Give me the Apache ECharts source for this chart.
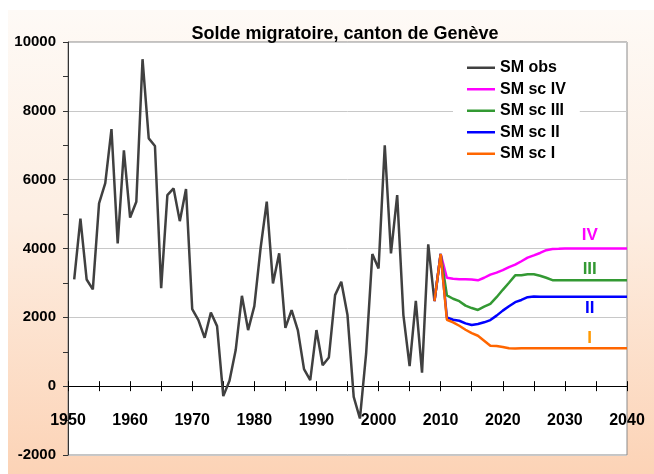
<!DOCTYPE html>
<html>
<head>
<meta charset="utf-8">
<script src="https://cdn.jsdelivr.net/npm/echarts@6/dist/echarts.min.js"></script>
<style>
html,body{margin:0;padding:0;background:#fff;}
#bg{position:absolute;left:8px;top:10px;width:646px;height:464px;background:linear-gradient(to bottom,#fefaf6 0%,#fdeee2 45%,#fcd3b6 100%);}
#chart{position:absolute;left:0;top:0;width:654px;height:474px;}
</style>
</head>
<body>
<div id="bg"></div>
<div id="chart"></div>
<script>
// Observed migratory balance (SM obs)
const obsYears = [1951,1952,1953,1954,1955,1956,1957,1958,1959,1960,1961,1962,1963,1964,1965,1966,1967,1968,1969,1970,
  1971,1972,1973,1974,1975,1976,1977,1978,1979,1980,1981,1982,1983,1984,1985,1986,1987,1988,1989,1990,
  1991,1992,1993,1994,1995,1996,1997,1998,1999,2000,2001,2002,2003,2004,2005,2006,2007,2008,2009];
const obsValues = [3100,4870,3100,2810,5310,5900,7470,4150,6850,4900,5360,9500,7200,6980,2850,5550,5745,4795,5730,2240,
  1920,1405,2140,1745,-290,155,1050,2625,1630,2325,4000,5360,2985,3860,1695,2210,1630,495,175,1630,
  610,835,2645,3035,2065,-310,-940,950,3840,3420,7000,3860,5550,2065,580,2480,390,4120,2470];

// Scenario years and values
const scYears = [2009,2010,2011,2012,2013,2014,2015,2016,2017,2018,2019,2020,2021,2022,2023,2024,2025,2026,2027,2028,
  2029,2030,2031,2032,2033,2034,2035,2036,2037,2038,2039,2040];
const scIV  = [2470,3840,3150,3120,3110,3110,3100,3075,3150,3240,3300,3370,3460,3530,3630,3735,3800,3870,3950,3985,
  3990,4000,4000,4000,4000,4000,4000,4000,4000,4000,4000,4000];
const scIII = [2470,3840,2640,2540,2470,2340,2270,2215,2310,2390,2585,2800,3005,3220,3220,3250,3250,3210,3150,3080,
  3080,3080,3080,3080,3080,3080,3080,3080,3080,3080,3080,3080];
const scII  = [2470,3840,2000,1930,1900,1825,1775,1805,1855,1920,2050,2195,2320,2440,2505,2585,2605,2600,2600,2600,
  2600,2600,2600,2600,2600,2600,2600,2600,2600,2600,2600,2600];
const scI   = [2470,3840,1930,1855,1755,1640,1540,1465,1320,1175,1170,1140,1100,1095,1100,1100,1100,1100,1100,1100,
  1100,1100,1100,1100,1100,1100,1100,1100,1100,1100,1100,1100];

const seriesNames = ['SM obs','SM sc IV','SM sc III','SM sc II','SM sc I'];
const tagLabels = ['IV','III','II','I'];
const tagYears = [2034,2034,2034,2034];
const tagValues = [4390,3400,2270,1395];

const pairs = (xs, ys) => xs.map((x, i) => [x, ys[i]]);
const FONT = '"Liberation Sans", Arial, sans-serif';
const GRID_H = 474 - 42 - 19;
const ZERO_OFFSET = -GRID_H * 2000 / 12000;

function tag(i, color) {
  return {
    symbol: 'circle', symbolSize: 0, silent: true,
    label: {show: true, position: 'inside', formatter: tagLabels[i], color: color,
      fontFamily: FONT, fontWeight: 'bold', fontSize: 17},
    data: [{coord: [tagYears[i], tagValues[i]]}]
  };
}

const chart = echarts.init(document.getElementById('chart'), null, {renderer: 'canvas'});
chart.setOption({
  backgroundColor: 'transparent',
  animation: false,
  title: {
    text: 'Solde migratoire, canton de Genève',
    left: 340, top: 20, textAlign: 'center',
    textStyle: {fontFamily: FONT, fontWeight: 'bold', fontSize: 18, color: '#000'}
  },
  legend: {
    orient: 'vertical', left: 453, top: 56,
    backgroundColor: '#fff', padding: [3, 14, 4, 14],
    icon: 'rect', itemWidth: 28, itemHeight: 2.5, itemGap: 4,
    data: seriesNames,
    textStyle: {fontFamily: FONT, fontWeight: 'bold', fontSize: 16, color: '#000', lineHeight: 17.5}
  },
  grid: {left: 68, right: 27, top: 42, bottom: 19, show: true,
    backgroundColor: '#fff', borderColor: '#8a8a8a', borderWidth: 1},
  xAxis: [{
    type: 'value', min: 1950, max: 2040, interval: 10, position: 'bottom', offset: ZERO_OFFSET,
    axisLine: {show: true, onZero: false, lineStyle: {color: '#000', width: 1}},
    axisTick: {show: true, length: 5, lineStyle: {color: '#000'}},
    minorTick: {show: true, splitNumber: 2, length: 5, lineStyle: {color: '#000'}},
    axisLabel: {margin: 26, color: '#000', fontFamily: FONT, fontWeight: 'bold', fontSize: 16,
      formatter: v => String(v)},
    splitLine: {show: false}
  }, {
    type: 'value', min: 1950, max: 2040, interval: 10, position: 'bottom',
    axisLine: {show: false, onZero: true, onZeroAxisIndex: 0},
    axisTick: {show: true, inside: true, length: 5, lineStyle: {color: '#000'}},
    minorTick: {show: true, splitNumber: 2, length: 5, lineStyle: {color: '#000'}},
    axisLabel: {show: false},
    splitLine: {show: false}
  }],
  yAxis: {
    type: 'value', min: -2000, max: 10000, interval: 2000,
    axisLine: {show: true, onZero: false, lineStyle: {color: '#333', width: 1}},
    axisTick: {show: true, length: 5, lineStyle: {color: '#333'}},
    minorTick: {show: true, splitNumber: 2, length: 5, lineStyle: {color: '#333'}},
    axisLabel: {margin: 12, color: '#000', fontFamily: FONT, fontWeight: 'bold', fontSize: 15,
      formatter: v => String(v)},
    splitLine: {show: true, lineStyle: {color: '#c8c8c8', width: 1}}
  },
  series: [
    {name: seriesNames[0], type: 'line', data: pairs(obsYears, obsValues), symbol: 'none',
      lineStyle: {color: '#404040', width: 2.5}, itemStyle: {color: '#404040'}, z: 2},
    {name: seriesNames[1], type: 'line', data: pairs(scYears, scIV), symbol: 'none',
      lineStyle: {color: '#ff00ff', width: 2.5}, itemStyle: {color: '#ff00ff'}, z: 3, markPoint: tag(0, '#ff00ff')},
    {name: seriesNames[2], type: 'line', data: pairs(scYears, scIII), symbol: 'none',
      lineStyle: {color: '#339933', width: 2.5}, itemStyle: {color: '#339933'}, z: 4, markPoint: tag(1, '#339933')},
    {name: seriesNames[3], type: 'line', data: pairs(scYears, scII), symbol: 'none',
      lineStyle: {color: '#0000ff', width: 2.5}, itemStyle: {color: '#0000ff'}, z: 5, markPoint: tag(2, '#0000ff')},
    {name: seriesNames[4], type: 'line', data: pairs(scYears, scI), symbol: 'none',
      lineStyle: {color: '#ff6600', width: 2.5}, itemStyle: {color: '#ff6600'}, z: 6, markPoint: tag(3, '#ff9900')}
  ]
});
</script>
</body>
</html>
